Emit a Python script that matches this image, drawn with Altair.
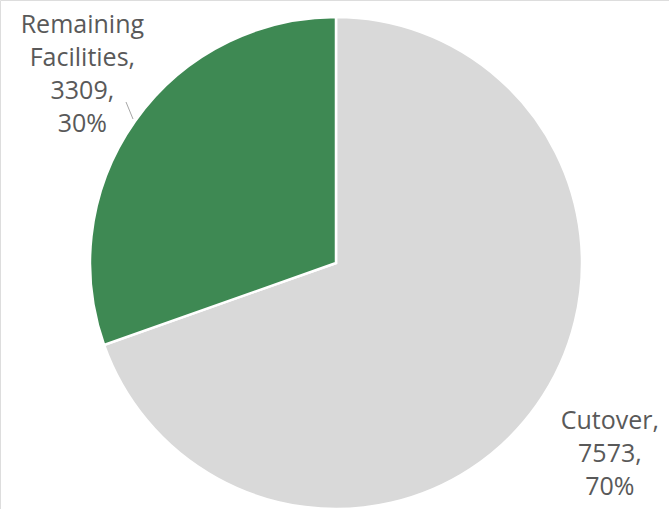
import altair as alt
import pandas as pd

categories = ["Cutover", "Remaining Facilities"]
counts = [7573, 3309]
percents = ["70%", "30%"]
colors = ["#d9d9d9", "#3e8953"]

df = pd.DataFrame({
    "category": categories,
    "count": counts,
    "pct": percents,
    "order": [0, 1],
})
df["label"] = [
    "Cutover,\n7573,\n70%",
    "Remaining\nFacilities,\n3309,\n30%",
]
total = sum(counts)

CX, CY = 336, 263
LH = 33

pie = alt.Chart(df).mark_arc(outerRadius=246, stroke="white", strokeWidth=2.5).encode(
    theta=alt.Theta("count:Q", stack=True),
    order=alt.Order("order:Q"),
    color=alt.Color("category:N", scale=alt.Scale(domain=categories, range=colors), legend=None),
    x=alt.value(CX), y=alt.value(CY),
)

text_style = dict(font="Open Sans", fontSize=25, color="#595959", lineBreak="\n",
                  lineHeight=LH, align="center", baseline="middle")

lab_base = alt.Chart(df).transform_window(
    cum="sum(count)", sort=[alt.SortField("order")], frame=[None, 0]
).transform_calculate(
    mid="datum.cum - datum.count / 2"
)

def label_layer(cat, r, nlines, dx=0, dy=0):
    return lab_base.transform_filter(alt.datum.category == cat).mark_text(
        radius=r, dx=dx, dy=-(nlines - 1) * LH / 2 + dy, **text_style
    ).encode(
        theta=alt.Theta("mid:Q", scale=alt.Scale(domain=[0, total])),
        text="label:N",
        x=alt.value(CX), y=alt.value(CY),
    )

label_cut = label_layer("Cutover", 333, 3, dx=2, dy=-1)
label_rem = label_layer("Remaining Facilities", 318, 4, dx=6, dy=-5)

leader = alt.Chart(pd.DataFrame({"a": [0]})).mark_rule(color="#a6a6a6", strokeWidth=1).encode(
    x=alt.value(126), y=alt.value(102), x2=alt.value(133), y2=alt.value(119)
)

chart = alt.layer(pie, label_cut, label_rem, leader).properties(
    width=669, height=509,
    padding=0,
    autosize=alt.AutoSizeParams(type="none"),
).configure_view(stroke=None).configure(background="white")

chart.save("out.html", embed_options={"renderer": "svg", "actions": False})
